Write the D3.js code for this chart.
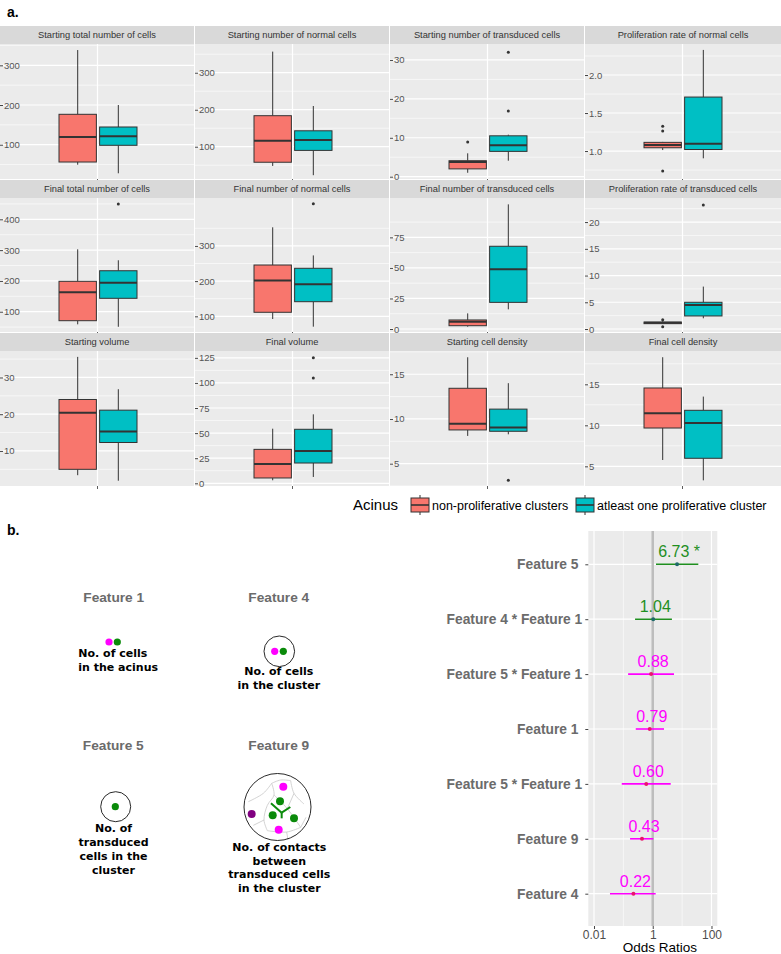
<!DOCTYPE html>
<html>
<head>
<meta charset="utf-8">
<script src="https://cdn.jsdelivr.net/npm/d3@7"></script>
<style>
  body { margin: 0; background: #fff; }
  svg { display: block; font-family: "Liberation Sans", Arial, sans-serif; }
</style>
</head>
<body>
<main></main>
<script>
// ---- data: panel a (box plots) ----
const panelTitles = [
  "Starting total number of cells", "Starting number of normal cells",
  "Starting number of transduced cells", "Proliferation rate of normal cells",
  "Final total number of cells", "Final number of normal cells",
  "Final number of transduced cells", "Proliferation rate of transduced cells",
  "Starting volume", "Final volume", "Starting cell density", "Final cell density",
]
const groups = ["non-proliferative clusters", "atleast one proliferative cluster"]

// [low whisker, q1, median, q3, high whisker]
const nonProlifStats = [
  [49.6, 56.4, 119.4, 176.6, 338.5],
  [48, 58, 116, 183.8, 357],
  [1.0, 2.0, 3.8, 4.1, 6.0],
  [1.013, 1.043, 1.079, 1.114, 1.12],
  [59, 70.8, 163, 198.7, 302.6],
  [92.3, 111.4, 202, 245.7, 352.8],
  [1.9, 2.7, 6.0, 7.4, 12.8],
  [0.95, 1.0, 1.15, 1.3, 1.45],
  [3.4, 5.0, 20.4, 24, 35.6],
  [3.0, 5.3, 19.2, 33.8, 54.4],
  [8.1, 8.77, 9.47, 13.43, 16.9],
  [5.77, 9.67, 11.46, 14.55, 18.3],
]
const prolifStats = [
  [28, 98.5, 121.2, 144.6, 200],
  [23, 90, 118, 143, 210],
  [4.1, 6.5, 8.1, 10.5, 10.8],
  [0.904, 1.02, 1.096, 1.71, 2.33],
  [51, 143.5, 194, 233, 267],
  [70.5, 141.5, 191, 236.4, 273],
  [16.1, 21.8, 48.9, 67.7, 102],
  [2.0, 2.44, 4.5, 5.0, 7.93],
  [1.9, 12.3, 15.3, 21.1, 26.8],
  [6.3, 20.2, 32.2, 53.8, 68.7],
  [8.28, 8.62, 9.03, 11.1, 14.0],
  [3.29, 5.98, 10.28, 11.83, 13.5],
]
const nonProlifOutliers = [[], [], [8.9], [1.325, 1.263, 0.737], [], [], [], [1.74, 0.43], [], [], [], []]
const prolifOutliers = [[], [], [32, 16.9], [], [450], [420], [], [23.2], [], [125, 105], [3.14], []]

const yDomains = [
  [13.6, 353.7], [12.7, 377.6], [-0.6, 34.1], [0.632, 2.408],
  [34.1, 469.2], [55.4, 436.1], [-2.45, 107.2], [-0.56, 24.5],
  [0.46, 37.2], [-2.7, 131.8], [2.5, 17.6], [2.6, 19.06],
]
const yTicks = [
  [100, 200, 300], [100, 200, 300], [0, 10, 20, 30], [1.0, 1.5, 2.0],
  [100, 200, 300, 400], [100, 200, 300], [0, 25, 50, 75], [0, 5, 10, 15, 20],
  [10, 20, 30], [0, 25, 50, 75, 100, 125], [5, 10, 15], [5, 10, 15],
]

// ---- data: panel b (odds ratios) ----
const featureRows = [
  "Feature 5 ", "Feature 4 * Feature 1", "Feature 5 * Feature 1", "Feature 1 ",
  "Feature 5 * Feature 1", "Feature 9 ", "Feature 4 ",
]
const oddsRatios = [6.73, 1.04, 0.88, 0.79, 0.60, 0.43, 0.22]
const ciLow = [1.29, 0.25, 0.145, 0.264, 0.088, 0.169, 0.035]
const ciHigh = [35.6, 4.5, 5.3, 2.42, 4.1, 1.05, 1.26]
const significant = [true, false, false, false, false, false, false]
const orTicks = [0.01, 1, 100]
const orMinorTicks = [0.1, 10]

const svg = d3.select("main").append("svg").attr("width", 781).attr("height", 954)

// panel letters
svg.append("text").attr("x", 7).attr("y", 17).text("a.")
  .attr("font-weight", "bold").attr("font-size", 14)
svg.append("text").attr("x", 7).attr("y", 535).text("b.")
  .attr("font-weight", "bold").attr("font-size", 14)

// ---- facet grid ----
const colX = [0, 195, 390, 585]
const colW = 195
const stripY = [26, 180, 333]
const panelY = [44, 198, 351]
const panelH = [135, 134, 135]
const fill = d3.scaleOrdinal().domain(groups).range(["#F8766D", "#00BFC4"])

panelTitles.forEach((title, i) => {
  const col = i % 4
  const row = Math.floor(i / 4)
  const x0 = colX[col]
  const w = col === 3 ? 196 : colW - 1
  const top = panelY[row]
  const bottom = top + panelH[row]
  const g = svg.append("g")

  g.append("rect").attr("x", x0).attr("y", stripY[row]).attr("width", w)
    .attr("height", top - stripY[row]).attr("fill", "#D9D9D9")
  g.append("text").attr("x", x0 + w / 2).attr("y", (stripY[row] + top) / 2 + 3.3)
    .attr("text-anchor", "middle").attr("font-size", 9.3).attr("fill", "#333")
    .text(title)

  g.append("rect").attr("x", x0).attr("y", top).attr("width", w)
    .attr("height", bottom - top).attr("fill", "#EBEBEB")

  const y = d3.scaleLinear().domain(yDomains[i]).range([bottom, top])

  // grid
  const ticks = yTicks[i]
  const step = ticks[1] - ticks[0]
  const minors = []
  for (let v = ticks[0] - step / 2; v <= yDomains[i][1]; v += step) {
    if (v >= yDomains[i][0]) minors.push(v)
  }
  g.selectAll(".minor").data(minors).enter().append("line")
    .attr("x1", x0).attr("x2", x0 + w)
    .attr("y1", (d) => y(d)).attr("y2", (d) => y(d))
    .attr("stroke", "#fff").attr("stroke-width", 0.6)
  g.selectAll(".major").data(ticks).enter().append("line")
    .attr("x1", x0).attr("x2", x0 + w)
    .attr("y1", (d) => y(d)).attr("y2", (d) => y(d))
    .attr("stroke", "#fff").attr("stroke-width", 1.2)

  const cx = x0 + colW / 2
  g.append("line").attr("x1", cx).attr("x2", cx).attr("y1", top).attr("y2", bottom)
    .attr("stroke", "#fff").attr("stroke-width", 1.2)
  g.append("line").attr("x1", cx).attr("x2", cx).attr("y1", bottom).attr("y2", bottom + 3)
    .attr("stroke", "#333").attr("stroke-width", 0.8)

  // y axis drawn inside the panel, labels to the right of the ticks
  const axis = g.append("g").attr("transform", `translate(${x0},0)`)
    .call(d3.axisRight(y).tickValues(ticks).tickSize(3).tickPadding(1)
      .tickFormat(i === 3 ? d3.format(".1f") : d3.format("d")))
  axis.select(".domain").remove()
  axis.selectAll("line").attr("stroke", "#444")
  axis.selectAll("text").attr("fill", "#555").attr("font-size", 9.5)
    .attr("font-family", "Liberation Sans, Arial, sans-serif")

  // boxes
  const x = d3.scaleBand().domain(groups).range([cx - 38.5, cx + 39.5]).paddingInner(0.08)
  const boxes = [
    { grp: groups[0], s: nonProlifStats[i], out: nonProlifOutliers[i] },
    { grp: groups[1], s: prolifStats[i], out: prolifOutliers[i] },
  ]
  boxes.forEach((b) => {
    const bx = x(b.grp)
    const bw = x.bandwidth()
    const mx = bx + bw / 2
    g.append("line").attr("x1", mx).attr("x2", mx).attr("y1", y(b.s[4])).attr("y2", y(b.s[3]))
      .attr("stroke", "#333").attr("stroke-width", 1)
    g.append("line").attr("x1", mx).attr("x2", mx).attr("y1", y(b.s[1])).attr("y2", y(b.s[0]))
      .attr("stroke", "#333").attr("stroke-width", 1)
    g.append("rect").attr("x", bx).attr("y", y(b.s[3])).attr("width", bw)
      .attr("height", Math.max(1, y(b.s[1]) - y(b.s[3])))
      .attr("fill", fill(b.grp)).attr("stroke", "#333").attr("stroke-width", 1)
    g.append("line").attr("x1", bx).attr("x2", bx + bw).attr("y1", y(b.s[2])).attr("y2", y(b.s[2]))
      .attr("stroke", "#333").attr("stroke-width", 2)
    g.selectAll(null).data(b.out).enter().append("circle")
      .attr("cx", mx).attr("cy", (d) => y(d)).attr("r", 1.5).attr("fill", "#333")
  })
})

// legend
const legend = svg.append("g")
legend.append("text").attr("x", 353).attr("y", 510).attr("font-size", 15).text("Acinus")
const keyX = [411, 576]
groups.forEach((grp, i) => {
  const kx = keyX[i]
  legend.append("line").attr("x1", kx + 9).attr("x2", kx + 9).attr("y1", 495).attr("y2", 515)
    .attr("stroke", "#333").attr("stroke-width", 1)
  legend.append("rect").attr("x", kx).attr("y", 498).attr("width", 18).attr("height", 14)
    .attr("fill", fill(grp)).attr("stroke", "#333").attr("stroke-width", 1)
  legend.append("line").attr("x1", kx).attr("x2", kx + 18).attr("y1", 505).attr("y2", 505)
    .attr("stroke", "#333").attr("stroke-width", 1.6)
  legend.append("text").attr("x", kx + 21).attr("y", 510).attr("font-size", 12.5).text(grp)
})

// ---- panel b: feature illustrations ----
const magenta = "#FF00FF"
const green = "#0A8A0A"
const purple = "#800080"
const ill = svg.append("g")
const featTitles = [
  { t: "Feature 1", x: 113.7, y: 601.7 }, { t: "Feature 4", x: 278.8, y: 601.7 },
  { t: "Feature 5", x: 113.3, y: 750 }, { t: "Feature 9", x: 278.8, y: 750 },
]
featTitles.forEach((f) => {
  ill.append("text").attr("x", f.x).attr("y", f.y).attr("text-anchor", "middle")
    .attr("font-size", 13.7).attr("font-weight", "bold").attr("fill", "#6B6B6B").text(f.t)
})
const captions = [
  { lines: ["No. of cells", "in the acinus"], x: 78.3, y: 656.7, anchor: "start" },
  { lines: ["No. of cells", "in the cluster"], x: 278.8, y: 675.3, anchor: "middle" },
  { lines: ["No. of", "transduced", "cells in the", "cluster"], x: 113.5, y: 832.3, anchor: "middle" },
  { lines: ["No. of contacts", "between", "transduced cells", "in the cluster"], x: 279.3, y: 850.7, anchor: "middle" },
]
captions.forEach((c) => {
  c.lines.forEach((l, j) => {
    ill.append("text").attr("x", c.x).attr("y", c.y + j * 13.8).attr("text-anchor", c.anchor)
      .attr("font-family", "DejaVu Sans, Verdana, sans-serif").attr("font-weight", "bold")
      .attr("font-size", 11).attr("fill", "#000").text(l)
  })
})
const dot = (x, y, c, r = 3.6) => ill.append("circle").attr("cx", x).attr("cy", y).attr("r", r).attr("fill", c)
const ring = (x, y, r) => ill.append("circle").attr("cx", x).attr("cy", y).attr("r", r)
  .attr("fill", "none").attr("stroke", "#111").attr("stroke-width", 0.9)
dot(109, 642, magenta); dot(117.3, 642, green)
ring(279.3, 651.3, 15.3); dot(274.7, 651.3, magenta); dot(283.3, 651.3, green)
ring(115.7, 806.7, 15); dot(115.3, 806.7, green)

// feature 9: cluster with cell outlines
const c9 = { x: 277.5, y: 807 }
const z = (zx, zy) => [c9.x + (zx - 832.5) / 3, c9.y + (zy - 231) / 3]
const cellEdges = [
  [[745, 215], [790, 190], [815, 160]],
  [[815, 160], [842, 150], [872, 152]],
  [[815, 160], [822, 195], [802, 226], [792, 270], [802, 302]],
  [[872, 152], [882, 190], [912, 222]],
  [[882, 190], [862, 236]],
  [[792, 270], [760, 286]],
  [[802, 302], [860, 306], [902, 292]],
  [[860, 306], [864, 330]],
  [[902, 292], [918, 262]],
  [[822, 195], [862, 236], [902, 292]],
]
const lineGen = d3.line().curve(d3.curveCatmullRom)
cellEdges.forEach((e) => {
  ill.append("path").attr("d", lineGen(e.map((p) => z(p[0], p[1]))))
    .attr("fill", "none").attr("stroke", "#C8C8C8").attr("stroke-width", 0.8)
})
ring(c9.x, c9.y, 33.5)
const contacts = [[[813, 220], [845, 248]], [[871, 231], [845, 248]], [[845, 248], [845, 265]]]
contacts.forEach((e) => {
  ill.append("path").attr("d", d3.line()(e.map((p) => z(p[0], p[1]))))
    .attr("stroke", green).attr("stroke-width", 2).attr("fill", "none")
})
dot(283.3, 786.7, magenta, 4); dot(280, 801.3, green, 4); dot(251.7, 814, purple, 4)
dot(272.7, 815.3, green, 4); dot(294, 818.3, green, 4); dot(278.7, 829.7, magenta, 4)

// ---- panel b: forest plot ----
const fp = { left: 588.3, right: 717.3, top: 531, bottom: 926 }
const xOR = d3.scaleLog().domain([Math.pow(10, -2.194), Math.pow(10, 2.198)]).range([fp.left, fp.right])
const yRow = d3.scalePoint().domain(d3.range(featureRows.length)).range([564.3, 893.7])
const fg = svg.append("g")
fg.append("rect").attr("x", fp.left).attr("y", fp.top).attr("width", fp.right - fp.left)
  .attr("height", fp.bottom - fp.top).attr("fill", "#EBEBEB")
fg.selectAll(".vminor").data(orMinorTicks).enter().append("line")
  .attr("x1", (d) => xOR(d)).attr("x2", (d) => xOR(d)).attr("y1", fp.top).attr("y2", fp.bottom)
  .attr("stroke", "#fff").attr("stroke-width", 0.6)
fg.selectAll(".vmajor").data(orTicks).enter().append("line")
  .attr("x1", (d) => xOR(d)).attr("x2", (d) => xOR(d)).attr("y1", fp.top).attr("y2", fp.bottom)
  .attr("stroke", "#fff").attr("stroke-width", 1.2)
fg.selectAll(".hmajor").data(d3.range(featureRows.length)).enter().append("line")
  .attr("x1", fp.left).attr("x2", fp.right).attr("y1", (d) => yRow(d)).attr("y2", (d) => yRow(d))
  .attr("stroke", "#fff").attr("stroke-width", 1.2)
fg.append("line").attr("x1", xOR(1)).attr("x2", xOR(1)).attr("y1", fp.top).attr("y2", fp.bottom)
  .attr("stroke", "#BDBDBD").attr("stroke-width", 2.5)

const rowColor = (i) => (oddsRatios[i] > 1 ? "#1F8F1F" : magenta)
const pointColor = (i) => (oddsRatios[i] > 1 ? "#1F6A6A" : "#E8176A")
fg.selectAll(".ci").data(oddsRatios).enter().append("line")
  .attr("x1", (d, i) => xOR(ciLow[i])).attr("x2", (d, i) => xOR(ciHigh[i]))
  .attr("y1", (d, i) => yRow(i)).attr("y2", (d, i) => yRow(i))
  .attr("stroke", (d, i) => rowColor(i)).attr("stroke-width", 1.6)
fg.selectAll(".pt").data(oddsRatios).enter().append("circle")
  .attr("cx", (d) => xOR(d)).attr("cy", (d, i) => yRow(i)).attr("r", 2)
  .attr("fill", (d, i) => pointColor(i))
fg.selectAll(".lab").data(oddsRatios).enter().append("text")
  .attr("x", (d) => xOR(d) + 2).attr("y", (d, i) => yRow(i) - 7)
  .attr("text-anchor", "middle").attr("font-size", 16)
  .attr("fill", (d, i) => rowColor(i))
  .text((d, i) => d3.format(".2f")(d) + (significant[i] ? " *" : ""))

const yAx = fg.append("g").attr("transform", `translate(${fp.left},0)`)
  .call(d3.axisLeft(yRow).tickSize(3).tickPadding(3).tickFormat((i) => featureRows[i]))
yAx.select(".domain").remove()
yAx.selectAll("line").attr("stroke", "#444")
yAx.selectAll("text").attr("font-size", 13.8).attr("font-weight", "bold").attr("fill", "#6B6B6B")
  .attr("font-family", "Liberation Sans, Arial, sans-serif").style("white-space", "pre")

const xAx = fg.append("g").attr("transform", `translate(0,${fp.bottom})`)
  .call(d3.axisBottom(xOR).tickValues(orTicks).tickSize(3).tickPadding(1).tickFormat((d) => String(d)))
xAx.select(".domain").remove()
xAx.selectAll("line").attr("stroke", "#444")
xAx.selectAll("text").attr("font-size", 12).attr("fill", "#4D4D4D")
  .attr("font-family", "Liberation Sans, Arial, sans-serif")

fg.append("text").attr("x", (fp.left + fp.right) / 2 + 7).attr("y", 952)
  .attr("text-anchor", "middle").attr("font-size", 13.5).text("Odds Ratios")
</script>
</body>
</html>
